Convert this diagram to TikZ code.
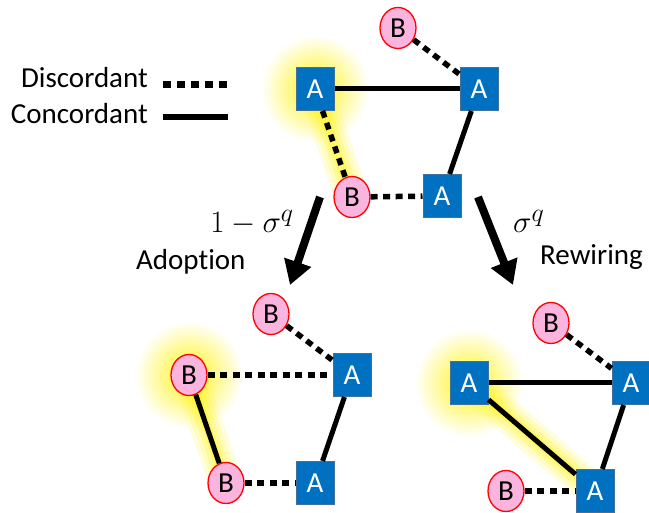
\documentclass[tikz,border=0pt]{standalone}
\usepackage{fontspec}
\setmainfont{Carlito}[Ligatures=NoCommon]
\usepackage{tikz}
\usetikzlibrary{arrows.meta,fadings,backgrounds,shapes.geometric}

\definecolor{boxblue}{HTML}{0070C0}
\definecolor{boxline}{HTML}{41719C}
\definecolor{bpink}{HTML}{FBB4DE}

\tikzfading[name=glowfade, inner color=transparent!10, outer color=transparent!100]

\newcommand{\bigmath}[1]{\scalebox{1.25}{$#1$}}

\begin{document}
\begin{tikzpicture}[x=1pt,y=-1pt,
  every node/.style={font=\fontsize{29}{34}\selectfont},
  agent/.style={draw=boxline,line width=1pt,fill=boxblue,text=white,minimum width=38pt,minimum height=43pt,inner sep=0pt},
  bagent/.style={ellipse,draw=red,line width=1.3pt,fill=bpink,minimum width=36pt,minimum height=41pt,inner sep=0pt},
  conc/.style={line width=5pt},
  disc/.style={line width=5.5pt,dash pattern=on 7pt off 5.5pt},
  glow/.style={yellow,path fading=glowfade},
  trans/.style={line width=8pt,-{Triangle[length=24pt,width=27pt]}},
  txt/.style={inner sep=0pt}]

  \useasboundingbox (0,0) rectangle (649,513);

  % legend
  \node[txt,anchor=base east] (discTxt) at (148,88) {Discordant};
  \node[txt,anchor=base east] (concTxt) at (148,124) {Concordant};
  \coordinate (discL) at (163,85); \coordinate (discR) at (228,85);
  \coordinate (concL) at (163,117); \coordinate (concR) at (228,117);
  \draw[line width=7pt,dash pattern=on 8pt off 6pt] (discL) -- (discR);
  \draw[line width=6pt] (concL) -- (concR);

  % before
  \node[bagent] (tB1) at (398,28) {B};
  \node[agent] (tA1) at (315,89) {A};
  \node[agent] (tA2) at (479,89) {A};
  \node[bagent] (tB2) at (352,197) {B};
  \node[agent] (tA3) at (442,196) {A};
  \draw[disc] (tB1) -- (tA2);
  \draw[conc] (tA1) -- (tA2);
  \draw[disc] (tA1) -- (tB2);
  \draw[disc] (tB2) -- (tA3);
  \draw[conc] (tA2) -- (tA3);

  % adoption
  \node[bagent] (lB1) at (271,314) {B};
  \node[bagent] (lB2) at (189,375) {B};
  \node[agent] (lA1) at (352,375) {A};
  \node[bagent] (lB3) at (226,483) {B};
  \node[agent] (lA2) at (315,483) {A};
  \draw[disc] (lB1) -- (lA1);
  \draw[disc] (lB2) -- (lA1);
  \draw[conc] (lB2) -- (lB3);
  \draw[disc] (lB3) -- (lA2);
  \draw[conc] (lA1) -- (lA2);

  % rewiring
  \node[bagent] (rB1) at (551,323) {B};
  \node[agent] (rA1) at (469,383) {A};
  \node[agent] (rA2) at (631,383) {A};
  \node[bagent] (rB2) at (506,491) {B};
  \node[agent] (rA3) at (595,491) {A};
  \draw[disc] (rB1) -- (rA2);
  \draw[conc] (rA1) -- (rA2);
  \draw[conc] (rA1) -- (rA3);
  \draw[disc] (rB2) -- (rA3);
  \draw[conc] (rA2) -- (rA3);

  % transitions
  \coordinate (arL1) at (320,197); \coordinate (arL2) at (290,285);
  \coordinate (arR1) at (478,197); \coordinate (arR2) at (513,285);
  \draw[trans] (arL1) -- (arL2);
  \draw[trans] (arR1) -- (arR2);
  \node[txt,anchor=base east] (pAdopt) at (294,233) {\bigmath{1-\sigma^q}};
  \node[txt,anchor=base west] (adopt) at (136,270) {Adoption};
  \node[txt,anchor=base west] (pRewire) at (513,233) {\bigmath{\sigma^q}};
  \node[txt,anchor=base west] (rewire) at (540,265) {Rewiring};

  % highlights
  \begin{scope}[on background layer]
    \fill[glow] (tA1) circle (54pt);
    \fill[glow] (lB2) circle (54pt);
    \fill[glow] (rA1) circle (54pt);
    \foreach \w/\o in {34/.12,26/.15,18/.2,10/.3}{
      \draw[yellow,line width=\w pt,opacity=\o,line cap=round] (tA1.center) -- (tB2.center);
      \draw[yellow,line width=\w pt,opacity=\o,line cap=round] (lB2.center) -- (lB3.center);
      \draw[yellow,line width=\w pt,opacity=\o,line cap=round] (rA1.center) -- (rA3.center);
    }
  \end{scope}
\end{tikzpicture}
\end{document}
